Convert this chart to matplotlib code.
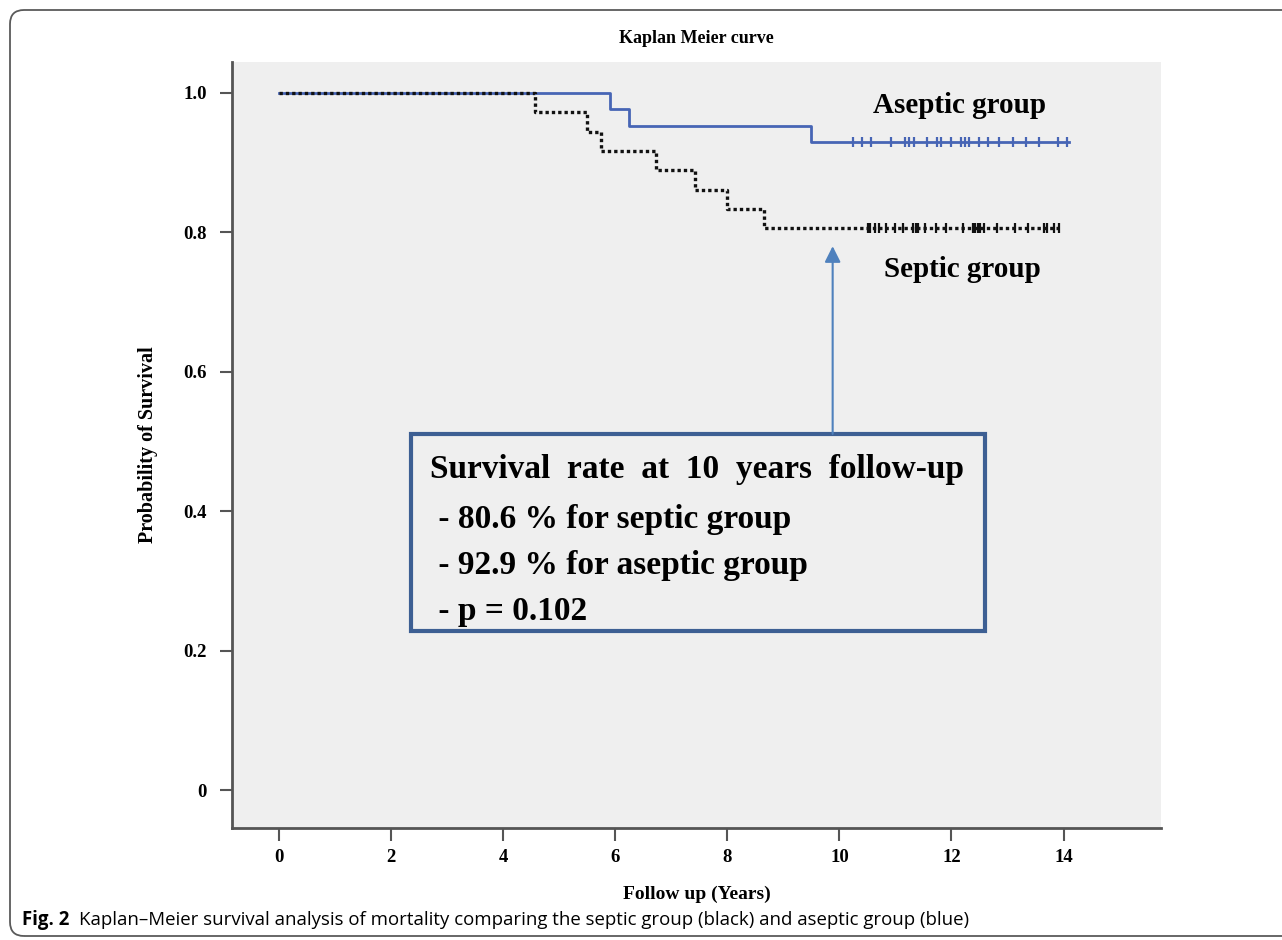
import numpy as np
import matplotlib
matplotlib.use('Agg')
import matplotlib.pyplot as plt
from matplotlib.patches import Rectangle, FancyBboxPatch
from matplotlib.transforms import IdentityTransform

# ── data ──────────────────────────────────────────────────
septic_times = [0.0, 4.57, 5.50, 5.74, 6.72, 7.42, 8.00, 8.65, 13.98]
septic_surv = [1.0, 0.972, 0.944, 0.917, 0.889, 0.861, 0.833, 0.806, 0.806]
septic_censor = [10.51, 10.55, 10.64, 10.70, 10.84, 11.00, 11.14, 11.31, 11.37,
                 11.41, 11.52, 11.72, 11.90, 12.20, 12.38, 12.42, 12.47, 12.51,
                 12.58, 12.82, 13.14, 13.36, 13.65, 13.71, 13.83, 13.92]

aseptic_times = [0.0, 5.90, 6.24, 9.49, 14.10]
aseptic_surv = [1.0, 0.976, 0.952, 0.929, 0.929]
aseptic_censor = [10.24, 10.40, 10.56, 10.92, 11.18, 11.25, 11.33, 11.57, 11.74,
                  11.81, 11.99, 12.17, 12.24, 12.32, 12.50, 12.66, 12.84, 13.09,
                  13.33, 13.57, 13.91, 14.07]

x_ticks = [0, 2, 4, 6, 8, 10, 12, 14]
y_ticks = [0, 0.2, 0.4, 0.6, 0.8, 1.0]
y_tick_labels = ['0', '0.2', '0.4', '0.6', '0.8', '1.0']

box_lines = ['Survival  rate  at  10  years  follow-up',
             ' - 80.6 % for septic group',
             ' - 92.9 % for aseptic group',
             ' - p = 0.102']
caption_bold = 'Fig. 2'
caption_text = 'Kaplan\u2013Meier survival analysis of mortality comparing the septic group (black) and aseptic group (blue)'

SERIF = 'Liberation Serif'
BG = '#efefef'
BLUE = '#4765b5'

fig = plt.figure(figsize=(12.82, 9.40), dpi=100)
fig.patch.set_facecolor('white')

# rounded outer frame (pixel coords)
frame = FancyBboxPatch((10, 4), 1300, 926, boxstyle='round,pad=0,rounding_size=14',
                       transform=IdentityTransform(), fill=False,
                       edgecolor='#5a5a5a', lw=1.3, clip_on=False)
fig.patches.append(frame)

ax = fig.add_axes([232/1282, 1 - 828/940, (1161 - 232)/1282, (828 - 62)/940])
ax.set_facecolor(BG)
ax.set_xlim(-0.84, 15.74)
ax.set_ylim(-0.054, 1.044)

# aseptic first, septic dotted drawn on top
ax.step(aseptic_times, aseptic_surv, where='post', color=BLUE, lw=2.0, zorder=3)
ax.plot(aseptic_censor, [aseptic_surv[-1]] * len(aseptic_censor), ls='none',
        marker='|', ms=7, mew=1.6, color=BLUE, zorder=3)
ax.step(septic_times, septic_surv, where='post', color='#111111', lw=2.4,
        ls=(0, (1.0, 0.9)), zorder=4)
ax.plot(septic_censor, [septic_surv[-1]] * len(septic_censor), ls='none',
        marker='|', ms=7, mew=1.6, color='#111111', zorder=4)

# group labels
ax.text(12.15, 0.981, 'Aseptic group', fontsize=21, fontweight='bold',
        family=SERIF, ha='center', va='center')
ax.text(12.2, 0.746, 'Septic group', fontsize=21, fontweight='bold',
        family=SERIF, ha='center', va='center')

# annotation box + arrow
ax.add_patch(Rectangle((2.35, 0.229), 10.25, 0.282, fill=False,
                       edgecolor='#3d5f93', lw=3, zorder=5))
ax.annotate('', xy=(9.88, 0.78), xytext=(9.88, 0.511),
            arrowprops=dict(arrowstyle='-|>', color='#4f81bd', lw=1.5,
                            mutation_scale=24, shrinkA=0, shrinkB=0), zorder=5)
for line, yy in zip(box_lines, [0.4595, 0.388, 0.322, 0.256]):
    ax.text(2.69, yy, line, fontsize=24, fontweight='bold', family=SERIF,
            ha='left', va='center', zorder=6)

# axes styling
for side in ['top', 'right']:
    ax.spines[side].set_visible(False)
for side in ['left', 'bottom']:
    ax.spines[side].set_linewidth(2)
    ax.spines[side].set_edgecolor('#555555')

ax.set_xticks(x_ticks)
ax.set_yticks(y_ticks)
ax.set_yticklabels(y_tick_labels)
ax.tick_params(direction='out', length=9, width=1.5, color='#555555',
               labelsize=13.5)
ax.tick_params(axis='y', pad=9)
ax.tick_params(axis='x', pad=6)
for lab in ax.get_xticklabels() + ax.get_yticklabels():
    lab.set_fontweight('bold')
    lab.set_family(SERIF)

ax.set_xlabel('Follow up (Years)', fontsize=14, fontweight='bold', family=SERIF,
              labelpad=14)
ax.set_ylabel('Probability of Survival', fontsize=14.5, fontweight='bold',
              family=SERIF, labelpad=18)
ax.set_title('Kaplan Meier curve', fontsize=13, fontweight='bold', family=SERIF,
             pad=14)

# caption
t1 = fig.text(22/1282, 1 - 920/940, caption_bold, fontsize=13.4, fontweight='bold',
              family='Open Sans', va='center', ha='left')
fig.canvas.draw()
bb = t1.get_window_extent()
fig.text((bb.x1 + 10)/1282, 1 - 920/940, caption_text, fontsize=13.4,
         family='Open Sans', va='center', ha='left')

fig.savefig('out.png', dpi=100, facecolor='white')
